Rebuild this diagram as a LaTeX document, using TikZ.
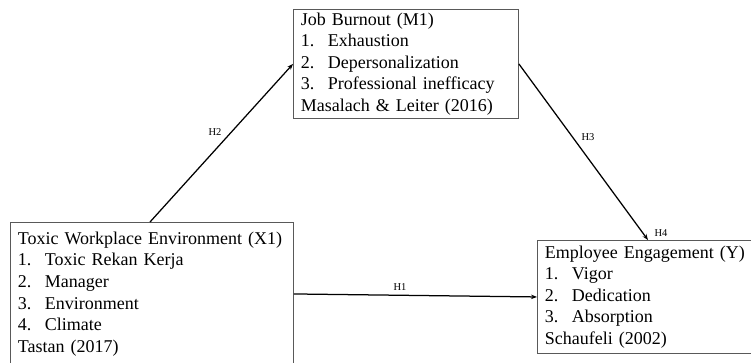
\documentclass[tikz,border=0pt]{standalone}
\usepackage{fontspec}
\setmainfont{Liberation Serif}
\usetikzlibrary{arrows.meta}
\newcommand{\itm}[1]{\makebox[27pt][l]{#1}}
\begin{document}
\begin{tikzpicture}[x=1pt,y=-1pt,
  varbox/.style={draw=black!65, line width=0.9pt, anchor=north west, align=left,
    inner xsep=7.5pt, inner ysep=0pt,
    font=\fontsize{18}{21.6}\selectfont},
  conn/.style={line width=1.25pt, -{Stealth[length=6pt,width=4.5pt]}},
  hlab/.style={font=\fontsize{10.5}{12}\selectfont, inner sep=1pt}
]
\useasboundingbox (0,0) rectangle (751,362);
\node[varbox, text width=268pt, minimum width=283pt, minimum height=143pt] (X1) at (10,222)
 {Toxic Workplace Environment (X1)\\
  \itm{1.}Toxic Rekan Kerja\\
  \itm{2.}Manager\\
  \itm{3.}Environment\\
  \itm{4.}Climate\\
  Tastan (2017)};
\node[varbox, text width=210pt, minimum width=225pt, minimum height=109pt] (M1) at (293,9)
 {Job Burnout (M1)\\
  \itm{1.}Exhaustion\\
  \itm{2.}Depersonalization\\
  \itm{3.}Professional inefficacy\\
  Masalach \& Leiter (2016)};
\node[varbox, text width=215pt, minimum width=230pt, minimum height=113pt] (Y) at (537,240)
 {Employee Engagement (Y)\\
  \itm{1.}Vigor\\
  \itm{2.}Dedication\\
  \itm{3.}Absorption\\
  Schaufeli (2002)};
\coordinate (x1top) at (150,222);
\coordinate (ytop) at (648,240);
\draw[conn] (x1top) -- (M1.west);
\draw[conn] (M1.east) -- (ytop);
\draw[conn] (X1.east) -- (Y.west);
\node[hlab] (h2) at (215,132) {H2};
\node[hlab] (h3) at (588,137) {H3};
\node[hlab] (h1) at (400,287) {H1};
\node[hlab] (h4) at (661,233) {H4};
\end{tikzpicture}
\end{document}
